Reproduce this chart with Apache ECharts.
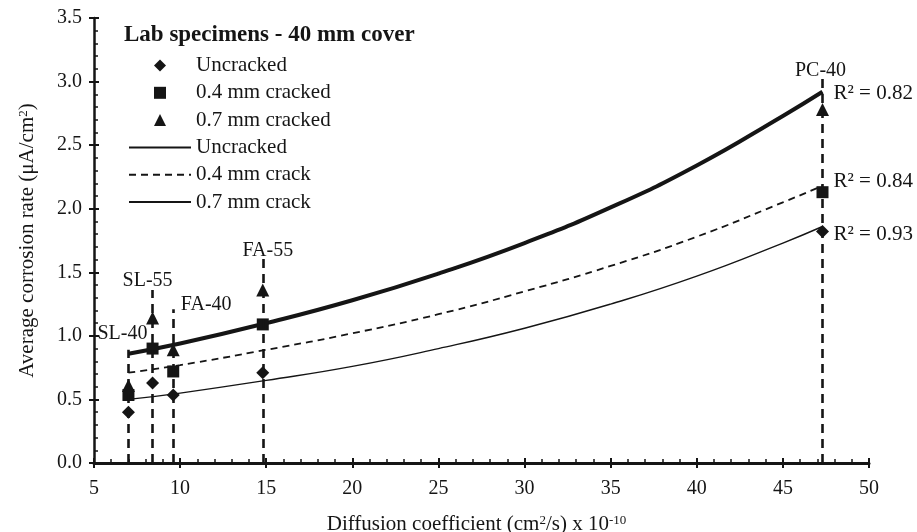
<!DOCTYPE html>
<html lang="en">
  <head>
    <meta charset="UTF-8" />
    <title>corrosion rate vs diffusion</title>
    <style>
      body, html {
        margin: 0;
        width: 100%;
        height: 100%;
        background: #fff;
      }
    </style>
  </head>
  <body>
    <div id="main" style="width:917px;height:532px;"></div>

    <script src="https://cdn.jsdelivr.net/npm/echarts@6/dist/echarts.min.js"></script>
    <script>
      // mixes, diffusion coefficient (x 10^-10 cm2/s) and measured rates
      const mixNames = ['SL-40', 'SL-55', 'FA-40', 'FA-55', 'PC-40'];
      const diffusion = [7.0, 8.4, 9.6, 14.8, 47.3];
      const rateUncracked = [0.40, 0.63, 0.535, 0.71, 1.82];
      const rate04 = [0.535, 0.90, 0.72, 1.09, 2.13];
      const rate07 = [0.61, 1.14, 0.89, 1.36, 2.78];
      const dropTops = [0.89, 1.36, 1.21, 1.64, 3.03];

      // trend curves
      const trendX = [7, 10, 15, 20, 25, 30, 35, 40, 45, 47.3];
      const trendUncracked = [0.50, 0.55, 0.65, 0.76, 0.90, 1.06, 1.25, 1.47, 1.73, 1.86];
      const trend04 = [0.71, 0.77, 0.89, 1.02, 1.17, 1.35, 1.55, 1.78, 2.05, 2.18];
      const trend07 = [0.86, 0.94, 1.10, 1.28, 1.49, 1.73, 2.01, 2.34, 2.73, 2.92];
      const r2Texts = ['R² = 0.93', 'R² = 0.84', 'R² = 0.82'];

      const yTicks = [0, 0.5, 1.0, 1.5, 2.0, 2.5, 3.0, 3.5];
      const xTicks = [5, 10, 15, 20, 25, 30, 35, 40, 45, 50];

      const FONT = '"Liberation Serif", "DejaVu Serif", serif';
      const INK = '#151515';

      // where each mix name sits relative to the top of its drop line (px)
      const labelShift = {
        'SL-40': [-6, -16],
        'SL-55': [-5, -9],
        'FA-40': [33, -4],
        'FA-55': [5, -4],
        'PC-40': [-2, -7],
      };

      // legend glyphs as paths so they keep their aspect inside a wide item box
      const ICON_DIAMOND = 'path://M5,0L10,5L5,10L0,5Z';
      const ICON_SQUARE = 'path://M0,0H10V10H0Z';
      const ICON_TRIANGLE = 'path://M5,0L10,10L0,10Z';

      const pairs = (xs, ys) => xs.map((x, i) => [x, ys[i]]);

      function draw() {
        const myChart = echarts.init(document.getElementById('main'), null, { renderer: 'canvas' });

        const gridBox = { left: 94, right: 48, top: 18, bottom: 69, outerBoundsMode: 'none', containLabel: false };

        const trendLine = (name, ys, width, type, r2, dy) => ({
          name: name,
          type: 'line',
          smooth: true,
          symbol: 'none',
          data: pairs(trendX, ys),
          lineStyle: { color: INK, width: width, type: type },
          itemStyle: { color: INK },
          endLabel: {
            show: true,
            formatter: r2,
            distance: 11,
            offset: [0, dy],
            fontFamily: FONT,
            fontSize: 21,
            color: INK,
          },
          z: 2,
        });

        const markers = (name, ys, symbol, size) => ({
          name: name,
          type: 'scatter',
          symbol: symbol,
          symbolSize: size,
          data: pairs(diffusion, ys),
          itemStyle: { color: INK, opacity: 1 },
          z: 4,
        });

        const option = {
          animation: false,
          backgroundColor: '#fff',
          textStyle: { fontFamily: FONT, color: INK },
          title: {
            text: 'Lab specimens - 40 mm cover',
            left: 124,
            top: 24,
            padding: 0,
            textStyle: { fontFamily: FONT, fontSize: 23, fontWeight: 'bold', color: INK },
          },
          legend: {
            orient: 'vertical',
            left: 128,
            top: 55,
            padding: 0,
            itemWidth: 62,
            itemHeight: 12,
            itemGap: 6.3,
            selectedMode: false,
            itemStyle: { opacity: 1 },
            data: [
              { name: 'Uncracked', icon: ICON_DIAMOND },
              { name: '0.4 mm cracked', icon: ICON_SQUARE },
              { name: '0.7 mm cracked', icon: ICON_TRIANGLE },
              { name: 'Uncracked ', itemStyle: { opacity: 0 } },
              { name: '0.4 mm crack', itemStyle: { opacity: 0 } },
              { name: '0.7 mm crack', itemStyle: { opacity: 0 } },
            ],
            textStyle: { fontFamily: FONT, fontSize: 21, lineHeight: 20, color: INK },
          },
          grid: [
            Object.assign({}, gridBox),
            Object.assign({}, gridBox),
          ],
          xAxis: [
            {
              type: 'value',
              min: xTicks[0],
              max: xTicks[xTicks.length - 1],
              interval: 5,
              name: 'Diffusion coefficient (cm{sup|2}/s) x 10{sup|-10}',
              nameLocation: 'middle',
              nameGap: 51,
              nameTextStyle: {
                fontFamily: FONT,
                fontSize: 21,
                color: INK,
                padding: [0, 10, 0, 0],
                rich: { sup: { fontFamily: FONT, fontSize: 13, verticalAlign: 'top', color: INK } },
              },
              axisLine: { lineStyle: { color: INK, width: 3 } },
              axisTick: { show: true, inside: true, length: 5, lineStyle: { color: INK, width: 2 } },
              minorTick: { show: true, splitNumber: 5, length: 4, lineStyle: { color: INK, width: 1.5 } },
              splitLine: { show: false },
              axisLabel: { fontFamily: FONT, fontSize: 20, color: INK, margin: 16 },
            },
            {
              gridIndex: 1,
              type: 'value',
              min: xTicks[0],
              max: xTicks[xTicks.length - 1],
              interval: 5,
              axisLine: { show: false },
              axisTick: { show: true, inside: false, length: 5, lineStyle: { color: INK, width: 2 } },
              axisLabel: { show: false },
              splitLine: { show: false },
            },
          ],
          yAxis: [
            {
              type: 'value',
              min: yTicks[0],
              max: yTicks[yTicks.length - 1],
              interval: 0.5,
              name: 'Average corrosion rate (μA/cm{sup|2})',
              nameLocation: 'middle',
              nameGap: 56,
              nameTextStyle: {
                fontFamily: FONT,
                fontSize: 21,
                color: INK,
                rich: { sup: { fontFamily: FONT, fontSize: 13, verticalAlign: 'top', color: INK } },
              },
              axisLine: { show: true, lineStyle: { color: INK, width: 2.5 } },
              axisTick: { show: true, inside: true, length: 5, lineStyle: { color: INK, width: 2 } },
              minorTick: { show: true, splitNumber: 5, length: 4, lineStyle: { color: INK, width: 1.5 } },
              splitLine: { show: false },
              axisLabel: {
                fontFamily: FONT,
                fontSize: 20,
                color: INK,
                margin: 12,
                formatter: v => v.toFixed(1),
              },
            },
            {
              gridIndex: 1,
              type: 'value',
              min: yTicks[0],
              max: yTicks[yTicks.length - 1],
              interval: 0.5,
              axisLine: { show: false },
              axisTick: { show: true, inside: false, length: 5, lineStyle: { color: INK, width: 2 } },
              axisLabel: { show: false },
              splitLine: { show: false },
            },
          ],
          series: [
            trendLine('Uncracked ', trendUncracked, 1.4, 'solid', r2Texts[0], 8),
            trendLine('0.4 mm crack', trend04, 1.8, [7, 5], r2Texts[1], -4),
            trendLine('0.7 mm crack', trend07, 4, 'solid', r2Texts[2], 2),
            {
              name: 'mixes',
              type: 'scatter',
              symbolSize: 0,
              silent: true,
              z: 3,
              itemStyle: { opacity: 1 },
              data: mixNames.map((n, i) => ({
                name: n,
                value: [diffusion[i], dropTops[i]],
                label: { offset: labelShift[n] },
              })),
              label: {
                show: true,
                position: 'inside',
                formatter: '{b}',
                fontFamily: FONT,
                fontSize: 20,
                color: INK,
              },
              markLine: {
                silent: true,
                symbol: ['none', 'none'],
                label: { show: false },
                lineStyle: { color: INK, width: 2.6, type: [9, 6], opacity: 1 },
                data: mixNames.map((n, i) => [
                  { coord: [diffusion[i], 0] },
                  { coord: [diffusion[i], dropTops[i]] },
                ]),
              },
            },
            markers('Uncracked', rateUncracked, 'diamond', 13),
            markers('0.4 mm cracked', rate04, 'rect', 12),
            markers('0.7 mm cracked', rate07, 'triangle', 13),
          ],
        };

        myChart.setOption(option);
      }

      draw();
    </script>
  </body>
</html>
